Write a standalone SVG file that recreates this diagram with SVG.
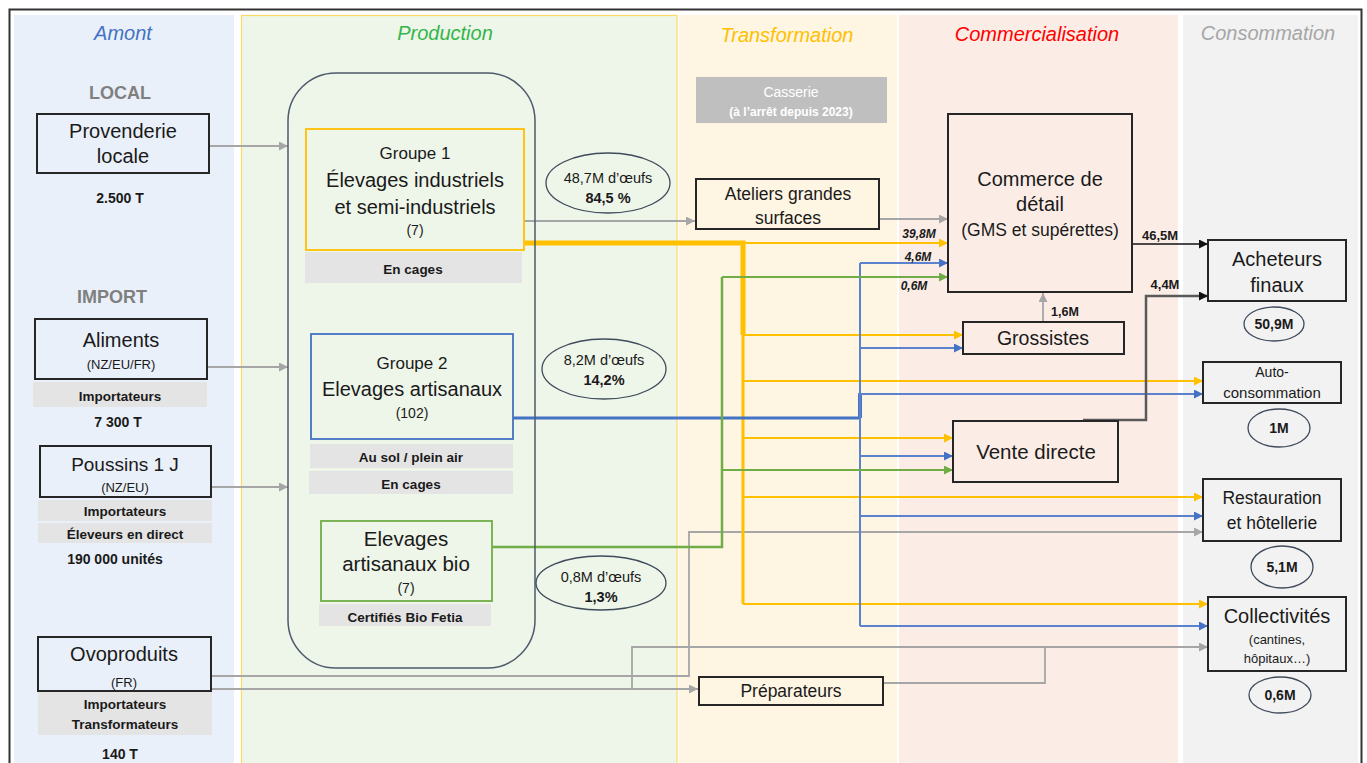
<svg xmlns="http://www.w3.org/2000/svg" width="1367" height="763" viewBox="0 0 1367 763">
<defs>
<style>
.t{font-family:"Liberation Sans",Arial,sans-serif;text-anchor:middle;dominant-baseline:central;fill:#1a1a1a}
.b{font-weight:bold}
.hd{font-style:italic;font-size:20px}
.box{fill:none;stroke:#262626;stroke-width:2}
.band{fill:#e4e4e4}
.ell{fill:none;stroke:#3f4b5b;stroke-width:1.3}
.c{fill:none;stroke-linejoin:miter}
.or{stroke:#ffc000;stroke-width:2}
.bl{stroke:#5b82cc;stroke-width:2}
.gr{stroke:#70ad47;stroke-width:2}
.gy{stroke:#a6a6a6;stroke-width:1.8}
.lbl{font-size:12px;font-weight:bold;font-style:italic}
</style>
<marker id="aOr" markerUnits="userSpaceOnUse" markerWidth="10" markerHeight="10" refX="9" refY="4.5" orient="auto"><path d="M0,0 L9,4.5 L0,9 z" fill="#ffc000"/></marker>
<marker id="aBl" markerUnits="userSpaceOnUse" markerWidth="10" markerHeight="10" refX="9" refY="4.5" orient="auto"><path d="M0,0 L9,4.5 L0,9 z" fill="#4472c4"/></marker>
<marker id="aGr" markerUnits="userSpaceOnUse" markerWidth="10" markerHeight="10" refX="9" refY="4.5" orient="auto"><path d="M0,0 L9,4.5 L0,9 z" fill="#70ad47"/></marker>
<marker id="aGy" markerUnits="userSpaceOnUse" markerWidth="10" markerHeight="10" refX="9" refY="4.5" orient="auto"><path d="M0,0 L9,4.5 L0,9 z" fill="#a6a6a6"/></marker>
<marker id="aBk" markerUnits="userSpaceOnUse" markerWidth="10" markerHeight="10" refX="9" refY="4.5" orient="auto"><path d="M0,0 L9,4.5 L0,9 z" fill="#111"/></marker>
</defs>

<rect width="1367" height="763" fill="#ffffff"/>

<g id="columns">
<rect x="14" y="15" width="220" height="760" fill="#e9f0f9"/>
<rect x="241.5" y="15.5" width="435.5" height="760" fill="#eef5e9" stroke="#ffd966" stroke-width="1.2"/>
<rect x="679" y="15" width="218" height="760" fill="#fef5e3"/>
<rect x="899" y="15" width="279" height="760" fill="#fbede6"/>
<rect x="1183" y="15" width="175" height="760" fill="#f2f2f2"/>
<rect x="9.5" y="9.5" width="1352" height="770" fill="none" stroke="#333" stroke-width="2"/>
<text class="t hd" x="123" y="33" fill="#4472c4" style="fill:#4472c4">Amont</text>
<text class="t hd" x="445" y="33" style="fill:#33b54a">Production</text>
<text class="t hd" x="787" y="35" style="fill:#ffc000">Transformation</text>
<text class="t hd" x="1037" y="34" style="fill:#ff0000">Commercialisation</text>
<text class="t hd" x="1268" y="33" style="fill:#a6a6a6">Consommation</text>
<text class="t b" x="120" y="93" style="fill:#7f7f7f;font-size:18px">LOCAL</text>
<text class="t b" x="112" y="297" style="fill:#7f7f7f;font-size:18px">IMPORT</text>
</g>

<g id="connectors">
<!-- Amont inputs -->
<path class="c gy" d="M209,146 H288" marker-end="url(#aGy)"/>
<path class="c gy" d="M207,367 H288" marker-end="url(#aGy)"/>
<path class="c gy" d="M211,487 H288" marker-end="url(#aGy)"/>
<!-- Ovoproduits -->
<path class="c gy" d="M211,676 H689 V532 H1203" marker-end="url(#aGy)"/>
<path class="c gy" d="M211,689 H698" marker-end="url(#aGy)"/>
<path class="c gy" d="M632,689 V647 H1208" marker-end="url(#aGy)"/>
<path class="c gy" d="M883,683 H1045 V647"/>
<!-- Groupe 1 to Ateliers, Ateliers to Commerce -->
<path class="c gy" d="M524,221 H695" marker-end="url(#aGy)"/>
<path class="c gy" d="M879,219 H948" marker-end="url(#aGy)"/>
<path class="c gy" d="M1043,322 V293" marker-end="url(#aGy)"/>
<!-- Orange -->
<path class="c" d="M525,243 H743 V335" stroke="#ffc000" stroke-width="5"/>
<path class="c" d="M743,335 V604" stroke="#ffc000" stroke-width="3"/>
<path class="c or" d="M743,243 H948" marker-end="url(#aOr)"/>
<path class="c or" d="M743,335 H963" marker-end="url(#aOr)"/>
<path class="c or" d="M743,381 H1203" marker-end="url(#aOr)"/>
<path class="c or" d="M743,438 H953" marker-end="url(#aOr)"/>
<path class="c or" d="M743,497 H1203" marker-end="url(#aOr)"/>
<path class="c or" d="M743,604 H1208" marker-end="url(#aOr)"/>
<!-- Blue -->
<path class="c" d="M513,418 H860" stroke="#4472c4" stroke-width="3"/>
<path class="c" d="M860,394 V418" stroke="#4472c4" stroke-width="4"/>
<path class="c bl" d="M860,263 V626"/>
<path class="c bl" d="M860,263 H948" marker-end="url(#aBl)"/>
<path class="c bl" d="M860,348 H963" marker-end="url(#aBl)"/>
<path class="c bl" d="M858,394 H1203" marker-end="url(#aBl)"/>
<path class="c bl" d="M860,456 H953" marker-end="url(#aBl)"/>
<path class="c bl" d="M860,516 H1203" marker-end="url(#aBl)"/>
<path class="c bl" d="M860,626 H1208" marker-end="url(#aBl)"/>
<!-- Green -->
<path class="c" d="M492,547 H722 V277" stroke="#70ad47" stroke-width="2.5"/>
<path class="c gr" d="M722,277 H948" marker-end="url(#aGr)"/>
<path class="c gr" d="M722,470 H953" marker-end="url(#aGr)"/>
<!-- To Acheteurs finaux -->
<path class="c" d="M1132,244 H1208" stroke="#111" stroke-width="1.5" marker-end="url(#aBk)"/>
<path class="c" d="M1083,420 H1146 V296 H1208" stroke="#595959" stroke-width="2.5" marker-end="url(#aBk)"/>
<!-- labels -->
<text class="t lbl" x="919" y="234">39,8M</text>
<text class="t lbl" x="918" y="257">4,6M</text>
<text class="t lbl" x="914" y="286">0,6M</text>
<text class="t b" x="1160" y="235" style="font-size:13px">46,5M</text>
<text class="t b" x="1165" y="284" style="font-size:13px">4,4M</text>
<text class="t b" x="1065" y="312" style="font-size:12.5px">1,6M</text>
</g>

<g id="provenderie">
<rect class="box" x="37" y="114" width="172" height="59"/>
<text class="t" x="123" y="131" style="font-size:20px">Provenderie</text>
<text class="t" x="123" y="156" style="font-size:20px">locale</text>
<text class="t b" x="120" y="198" style="font-size:14px">2.500 T</text>
</g>

<g id="aliments">
<rect class="box" x="35" y="319" width="172" height="60"/>
<text class="t" x="121" y="340" style="font-size:20px">Aliments</text>
<text class="t" x="121" y="364" style="font-size:13px">(NZ/EU/FR)</text>
<rect class="band" x="33" y="382" width="174" height="25"/>
<text class="t b" x="120" y="396" style="font-size:13.5px">Importateurs</text>
<text class="t b" x="118" y="422" style="font-size:14px">7 300 T</text>
</g>

<g id="poussins">
<rect class="box" x="40" y="446" width="171" height="51"/>
<text class="t" x="125" y="464" style="font-size:19px">Poussins 1 J</text>
<text class="t" x="125" y="487" style="font-size:13px">(NZ/EU)</text>
<rect class="band" x="38" y="500" width="174" height="21"/>
<text class="t b" x="125" y="511" style="font-size:13.5px">Importateurs</text>
<rect class="band" x="38" y="523" width="174" height="20"/>
<text class="t b" x="125" y="534" style="font-size:13.5px">Éleveurs en direct</text>
<text class="t b" x="115" y="559" style="font-size:14px">190 000 unités</text>
</g>

<g id="ovoproduits">
<rect class="box" x="38" y="637" width="173" height="54"/>
<text class="t" x="124" y="654" style="font-size:20px">Ovoproduits</text>
<text class="t" x="124" y="682" style="font-size:13px">(FR)</text>
<rect class="band" x="38" y="692" width="174" height="43"/>
<text class="t b" x="125" y="704" style="font-size:13.5px">Importateurs</text>
<text class="t b" x="125" y="724" style="font-size:13.5px">Transformateurs</text>
<text class="t b" x="120" y="754" style="font-size:14px">140 T</text>
</g>

<g id="production-frame">
<rect x="288" y="73" width="247" height="595" rx="48" ry="48" fill="none" stroke="#4d5a6b" stroke-width="1.5"/>
</g>

<g id="groupe1">
<rect x="306" y="129" width="218" height="121" fill="none" stroke="#ffc000" stroke-width="1.8"/>
<text class="t" x="415" y="153" style="font-size:17px">Groupe 1</text>
<text class="t" x="415" y="180" style="font-size:20px">Élevages industriels</text>
<text class="t" x="415" y="207" style="font-size:20px">et semi-industriels</text>
<text class="t" x="415" y="230" style="font-size:14px">(7)</text>
<rect class="band" x="305" y="252" width="217" height="31"/>
<text class="t b" x="413" y="269" style="font-size:13.5px">En cages</text>
</g>

<g id="groupe2">
<rect x="311" y="334" width="202" height="105" fill="none" stroke="#4472c4" stroke-width="1.8"/>
<text class="t" x="412" y="363" style="font-size:17px">Groupe 2</text>
<text class="t" x="412" y="389" style="font-size:20px">Elevages artisanaux</text>
<text class="t" x="412" y="413" style="font-size:14px">(102)</text>
<rect class="band" x="310" y="444" width="203" height="24"/>
<text class="t b" x="411" y="457" style="font-size:13.5px">Au sol / plein air</text>
<rect class="band" x="309" y="471" width="204" height="23"/>
<text class="t b" x="411" y="484" style="font-size:13.5px">En cages</text>
</g>

<g id="bio">
<rect x="321" y="521" width="171" height="80" fill="none" stroke="#70ad47" stroke-width="1.8"/>
<text class="t" x="406" y="538" style="font-size:20.5px">Elevages</text>
<text class="t" x="406" y="563" style="font-size:20.5px">artisanaux bio</text>
<text class="t" x="406" y="588" style="font-size:14px">(7)</text>
<rect class="band" x="319" y="604" width="172" height="22"/>
<text class="t b" x="405" y="617" style="font-size:13.5px">Certifiés Bio Fetia</text>
</g>

<g id="ellipses-production">
<ellipse class="ell" cx="608" cy="183" rx="62" ry="30"/>
<text class="t" x="608" y="178" style="font-size:14.5px">48,7M d’œufs</text>
<text class="t b" x="608" y="198" style="font-size:14.5px">84,5 %</text>
<ellipse class="ell" cx="604" cy="369" rx="62" ry="30"/>
<text class="t" x="604" y="360" style="font-size:14.5px">8,2M d’œufs</text>
<text class="t b" x="604" y="380" style="font-size:14.5px">14,2%</text>
<ellipse class="ell" cx="601" cy="583" rx="65" ry="27"/>
<text class="t" x="601" y="577" style="font-size:14.5px">0,8M d’œufs</text>
<text class="t b" x="601" y="597" style="font-size:14.5px">1,3%</text>
</g>

<g id="casserie">
<rect x="696" y="77" width="191" height="46" fill="#bfbfbf"/>
<text class="t" x="791" y="92" style="fill:#ffffff;font-size:14px">Casserie</text>
<text class="t b" x="791" y="112" style="fill:#ffffff;font-size:12px">(à l’arrêt depuis 2023)</text>
</g>

<g id="ateliers">
<rect class="box" x="696" y="179" width="183" height="50"/>
<text class="t" x="788" y="194" style="font-size:17.5px">Ateliers grandes</text>
<text class="t" x="788" y="218" style="font-size:17.5px">surfaces</text>
</g>

<g id="preparateurs">
<rect class="box" x="699" y="677" width="184" height="28"/>
<text class="t" x="791" y="691" style="font-size:17.5px">Préparateurs</text>
</g>

<g id="commerce">
<rect class="box" x="948" y="114" width="184" height="178"/>
<text class="t" x="1040" y="179" style="font-size:20px">Commerce de</text>
<text class="t" x="1040" y="204" style="font-size:20px">détail</text>
<text class="t" x="1040" y="230" style="font-size:17.5px">(GMS et supérettes)</text>
</g>

<g id="grossistes">
<rect class="box" x="963" y="322" width="161" height="32"/>
<text class="t" x="1043" y="338" style="font-size:19.5px">Grossistes</text>
</g>

<g id="vente-directe">
<rect class="box" x="953" y="421" width="165" height="61"/>
<text class="t" x="1036" y="451" style="font-size:20.5px">Vente directe</text>
</g>

<g id="acheteurs">
<rect class="box" x="1208" y="240" width="138" height="61"/>
<text class="t" x="1277" y="259" style="font-size:20px">Acheteurs</text>
<text class="t" x="1277" y="285" style="font-size:20px">finaux</text>
<ellipse class="ell" cx="1274" cy="324" rx="30" ry="17"/>
<text class="t b" x="1274" y="324" style="font-size:14px">50,9M</text>
</g>

<g id="autoconsommation">
<rect class="box" x="1203" y="362" width="138" height="41"/>
<text class="t" x="1272" y="372" style="font-size:14px">Auto-</text>
<text class="t" x="1272" y="392" style="font-size:15px">consommation</text>
<ellipse class="ell" cx="1279" cy="428" rx="31" ry="19"/>
<text class="t b" x="1279" y="428" style="font-size:14px">1M</text>
</g>

<g id="restauration">
<rect class="box" x="1203" y="479" width="138" height="62"/>
<text class="t" x="1272" y="498" style="font-size:17.5px">Restauration</text>
<text class="t" x="1272" y="523" style="font-size:17.5px">et hôtellerie</text>
<ellipse class="ell" cx="1282" cy="567" rx="31" ry="21"/>
<text class="t b" x="1282" y="567" style="font-size:14px">5,1M</text>
</g>

<g id="collectivites">
<rect class="box" x="1208" y="597" width="138" height="74"/>
<text class="t" x="1277" y="616" style="font-size:20px">Collectivités</text>
<text class="t" x="1277" y="639" style="font-size:13px">(cantines,</text>
<text class="t" x="1277" y="658" style="font-size:13px">hôpitaux…)</text>
<ellipse class="ell" cx="1280" cy="695" rx="31" ry="18"/>
<text class="t b" x="1280" y="695" style="font-size:14px">0,6M</text>
</g>
</svg>
